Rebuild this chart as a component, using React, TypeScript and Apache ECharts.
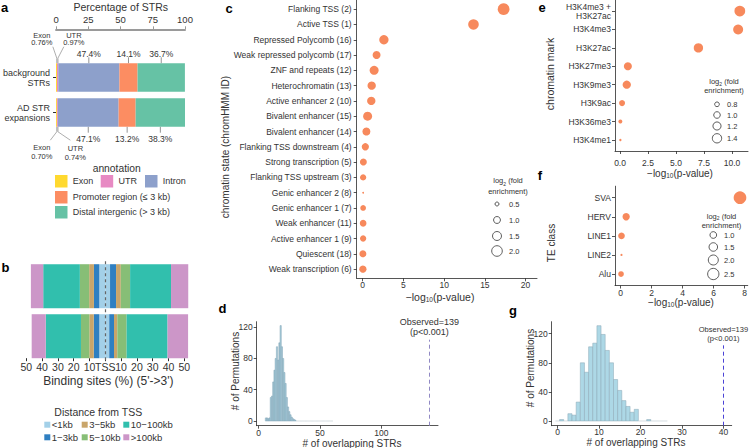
import React, { useEffect, useRef } from "react";
import * as echarts from "echarts";

const FONT = "'Liberation Sans', Arial, Helvetica, sans-serif";
const INK = "#333333";
const AXIS_LINE = "#2b2b2b";
const DOT = "#F7895C";

// ---------- panel a ----------
const aRows = ["background\nSTRs", "AD STR\nexpansions"];
const aAnnotations = ["Exon", "UTR", "Intron", "Promoter region (≤ 3 kb)", "Distal intergenic (> 3 kb)"];
const aColors = ["#FFD92F", "#E78AC3", "#8DA0CB", "#FC8D62", "#66C2A5"];
const aBackground = [0.76, 0.97, 47.4, 14.1, 36.7];
const aExpansions = [0.7, 0.74, 47.1, 13.2, 38.3];

// ---------- panel b ----------
const bRows = ["background STRs", "AD STR expansions"];
const bClasses = ["<1kb", "1−3kb", "3−5kb", "5−10kb", "10−100kb", ">100kb"];
const bColors = ["#A3D0E8", "#2F7FC1", "#C9A56A", "#87BE76", "#31BFAD", "#CC96C8"];
const bUpBackground = [3.8, 3.4, 3.0, 5.9, 23.2, 7.8];
const bDownBackground = [3.0, 3.8, 3.0, 5.9, 25.9, 10.9];
const bUpExpansions = [3.8, 3.5, 2.8, 5.3, 22.3, 8.9];
const bDownExpansions = [2.5, 3.0, 2.1, 5.9, 25.9, 13.0];

// ---------- panel c ----------
const cStates = [
  "Flanking TSS (2)", "Active TSS (1)", "Repressed Polycomb (16)", "Weak repressed polycomb (17)",
  "ZNF and repeats (12)", "Heterochromatin (13)", "Active enhancer 2 (10)", "Bivalent enhancer (15)",
  "Bivalent enhancer (14)", "Flanking TSS downstream (4)", "Strong transcription (5)",
  "Flanking TSS upstream (3)", "Genic enhancer 2 (8)", "Genic enhancer 1 (7)", "Weak enhancer (11)",
  "Active enhancer 1 (9)", "Quiescent (18)", "Weak transcription (6)",
];
const cLogP = [17.3, 13.6, 2.6, 1.7, 1.4, 1.1, 1.05, 0.6, 0.45, 0.32, 0.08, 0.05, 0.05, 0.05, 0.05, 0.05, 0.02, 0.02];
const cLog2FE = [2.4, 2.0, 1.6, 1.25, 1.5, 1.33, 1.33, 1.5, 1.25, 1.08, 1.0, 0.87, 0.3, 0.76, 0.95, 0.87, 1.0, 1.08];
const cSizeBreaks = [0.5, 1.0, 1.5, 2.0];
const cTicks = [0, 5, 10, 15, 20];

// ---------- panel d ----------
const dBinStart = 6;
const dCounts = [
  4, 4, 3, 4, 30, 32, 50, 65, 80, 95, 78, 100, 122, 95, 80, 62, 48, 30, 18, 12, 8, 5, 3, 2, 1,
  0, 0, 0, 0, 0, 0, 0, 0, 0, 0, 0, 0, 0, 0, 0, 0, 0, 0, 0, 0, 0, 0, 0, 0, 0, 0, 0, 0, 0, 0,
];
const dObserved = 139;
const dTicksX = [0, 50, 100];
const dTicksY = [0, 40, 80, 120];

// ---------- panel e ----------
const eMarks = ["H3K4me3 +\nH3K27ac", "H3K4me3", "H3K27ac", "H3K27me3", "H3K9me3", "H3K9ac", "H3K36me3", "H3K4me1"];
const eLogP = [10.7, 10.55, 7.0, 0.7, 0.6, 0.18, 0.03, 0.03];
const eLog2FE = [1.66, 1.52, 1.4, 1.19, 1.23, 0.93, 0.74, 0.65];
const eSizeBreaks = [0.8, 1.0, 1.2, 1.4];
const eTicks = [0, 2.5, 5, 7.5, 10];

// ---------- panel f ----------
const fClasses = ["SVA", "HERV", "LINE1", "LINE2", "Alu"];
const fLogP = [7.7, 0.35, 0.05, 0.05, 0.02];
const fLog2FE = [3.1, 1.15, 1.0, 0.25, 0.77];
const fSizeBreaks = [1.0, 1.5, 2.0, 2.5];
const fTicks = [0, 2, 4, 6, 8];

// ---------- panel g ----------
const gBinStart = 0;
const gCounts = [0, 2, 0, 10, 8, 26, 80, 67, 102, 107, 131, 119, 97, 80, 57, 42, 28, 20, 12, 16, 0, 0, 2, 0, 0, 0, 0];
const gObserved = 40;
const gTicksX = [0, 10, 20, 30, 40];
const gTicksY = [0, 40, 80, 120];

// size scales (area-linear)
const cSize = (v: number) => Math.sqrt(Math.max(64 * v - 16, 3));
const eSize = (v: number) => Math.sqrt(Math.max(108 * v - 64.4, 3));
const fSize = (v: number) => Math.sqrt(Math.max(55 * v - 10, 3));

const txt = (size: number, extra: any = {}) => ({ color: INK, fontSize: size, fontFamily: FONT, ...extra });

function valueAxis(grid: number, min: number, max: number, ticks: number[], label: any = {}, extra: any = {}) {
  return {
    type: "value",
    gridIndex: grid,
    min,
    max,
    splitLine: { show: false },
    axisLine: { show: true, onZero: false, lineStyle: { color: AXIS_LINE, width: 0.8 } },
    axisTick: { show: true, customValues: ticks, length: 3, lineStyle: { color: AXIS_LINE, width: 0.8 } },
    axisLabel: { customValues: ticks, ...txt(8.5), ...label },
    ...extra,
  };
}

function hist(fill: string, stroke: string) {
  return (params: any, api: any) => {
    const x = api.value(0);
    const n = api.value(1);
    const p0 = api.coord([x - 0.5, 0]);
    const p1 = api.coord([x + 0.5, n]);
    if (n <= 0) {
      return {
        type: "line",
        shape: { x1: p0[0], y1: p0[1], x2: p1[0], y2: p0[1] },
        style: { stroke: "#C9D3D8", lineWidth: 0.8 },
      };
    }
    return {
      type: "rect",
      shape: { x: p0[0], y: p1[1], width: p1[0] - p0[0], height: p0[1] - p1[1] },
      style: { fill, stroke, lineWidth: 0.5 },
    };
  };
}

const idx = (arr: any[]) => arr.map((_, i) => i);

function buildOption(): any {
  const grids = [
    { left: 52.7, top: 60, width: 132.3, height: 70 },
    { left: 26.3, top: 261.2, width: 158, height: 100 },
    { left: 356.7, top: -2.5, width: 180.3, height: 280.8 },
    { left: 256.7, top: 321.7, width: 181.3, height: 104 },
    { left: 615, top: 0, width: 133, height: 151 },
    { left: 615, top: 186.2, width: 133, height: 99.3 },
    { left: 551.7, top: 321.7, width: 180, height: 104 },
  ];

  const xAxis = [
    {
      type: "value", gridIndex: 0, min: 0, max: 100, interval: 25, position: "top", offset: 30.7,
      splitLine: { show: false },
      axisLine: { show: true, lineStyle: { color: "#9a9a9a", width: 2 } },
      axisTick: { show: true, length: 3, lineStyle: { color: "#9a9a9a" } },
      axisLabel: { ...txt(9.5), margin: 4.5 },
    },
    {
      type: "value", gridIndex: 1, min: -50, max: 50, interval: 10, offset: -3,
      splitLine: { show: false },
      axisLine: { show: false },
      axisTick: { show: true, length: 3, lineStyle: { color: AXIS_LINE } },
      axisLabel: { ...txt(10.5), margin: 3.5, formatter: (v: number) => (v === 0 ? "TSS" : String(Math.abs(v))) },
    },
    valueAxis(2, -0.74, 21.4, cTicks, { margin: 2.5 }),
    valueAxis(3, -1.5, 146, dTicksX, { margin: 2.8 }),
    valueAxis(4, -0.45, 11.43, eTicks, { margin: 7, formatter: (v: number) => v.toFixed(1) }),
    valueAxis(5, -0.37, 8.2, fTicks, { margin: 3.3 }),
    valueAxis(6, -1.4, 42, gTicksX, { margin: 1.5 }),
  ];

  const catLabel = (names: string[]) => (v: number) => names[Math.round(v)] ?? "";

  const yAxis = [
    {
      type: "category", gridIndex: 0, data: aRows, inverse: true,
      axisLine: { show: false },
      axisTick: { show: true, alignWithLabel: true, length: 3, lineStyle: { color: AXIS_LINE } },
      axisLabel: { ...txt(9), margin: 6, lineHeight: 10 },
    },
    {
      type: "category", gridIndex: 1, data: bRows, inverse: true,
      axisLine: { show: false }, axisTick: { show: false }, axisLabel: { show: false },
    },
    valueAxis(2, -0.6, cStates.length - 0.4, idx(cStates), { margin: 5, formatter: catLabel(cStates) }, { inverse: true }),
    valueAxis(3, -6, 127, dTicksY, { margin: 4 }),
    valueAxis(4, -0.6, eMarks.length - 0.4, idx(eMarks), { margin: 4, lineHeight: 9, formatter: catLabel(eMarks) }, { inverse: true }),
    valueAxis(5, -0.6, fClasses.length - 0.4, idx(fClasses), { margin: 4, formatter: catLabel(fClasses) }, { inverse: true }),
    valueAxis(6, -6.5, 136.5, gTicksY, { margin: 4 }),
  ];

  const series: any[] = [];

  aAnnotations.forEach((name, i) => {
    series.push({
      type: "bar", name, xAxisIndex: 0, yAxisIndex: 0, stack: "a", barWidth: 28.4, silent: true,
      data: [aBackground[i], aExpansions[i]], itemStyle: { color: aColors[i] },
    });
  });

  bClasses.forEach((name, i) => {
    series.push({
      type: "bar", name, xAxisIndex: 1, yAxisIndex: 1, stack: "b", barWidth: 44, silent: true, clip: false,
      data: [-bUpBackground[i], -bUpExpansions[i]], itemStyle: { color: bColors[i] },
    });
    series.push({
      type: "bar", name, xAxisIndex: 1, yAxisIndex: 1, stack: "b", barWidth: 44, silent: true, clip: false,
      data: [bDownBackground[i], bDownExpansions[i]], itemStyle: { color: bColors[i] },
      markLine: i === bClasses.length - 1
        ? {
            silent: true, symbol: "none", label: { show: false },
            lineStyle: { type: [3, 3], color: "#666", width: 1.2 },
            data: [{ xAxis: 0 }],
          }
        : undefined,
    });
  });

  series.push({
    type: "scatter", xAxisIndex: 2, yAxisIndex: 2, silent: true,
    data: cLogP.map((p, i) => [p, i, cLog2FE[i]]),
    symbolSize: (d: number[]) => cSize(d[2]),
    itemStyle: { color: DOT, opacity: 1 },
  });

  const observedLine = (value: number, top: number, yMin: number, color: string, size: number) => ({
    silent: true, symbol: "none",
    lineStyle: { type: [4, 3], color, width: 1 },
    label: {
      show: true, position: "end", distance: 2, formatter: "Observed=139\n(p<0.001)",
      ...txt(size), lineHeight: size + 1.5,
    },
    data: [[{ coord: [value, yMin] }, { coord: [value, top] }]],
  });

  series.push({
    type: "custom", xAxisIndex: 3, yAxisIndex: 3, silent: true,
    data: dCounts.map((c, i) => [dBinStart + i, c]),
    encode: { x: 0, y: 1 },
    renderItem: hist("#A9CEDD", "#7EA3B4"),
    markLine: observedLine(dObserved, 104, -6, "#9189C4", 9),
  });

  series.push({
    type: "scatter", xAxisIndex: 4, yAxisIndex: 4, silent: true,
    data: eLogP.map((p, i) => [p, i, eLog2FE[i]]),
    symbolSize: (d: number[]) => eSize(d[2]),
    itemStyle: { color: DOT, opacity: 1 },
  });

  series.push({
    type: "scatter", xAxisIndex: 5, yAxisIndex: 5, silent: true,
    data: fLogP.map((p, i) => [p, i, fLog2FE[i]]),
    symbolSize: (d: number[]) => fSize(d[2]),
    itemStyle: { color: DOT, opacity: 1 },
  });

  series.push({
    type: "custom", xAxisIndex: 6, yAxisIndex: 6, silent: true,
    data: gCounts.map((c, i) => [gBinStart + i, c]),
    encode: { x: 0, y: 1 },
    renderItem: hist("#ADD8E6", "#8AA7B5"),
    markLine: observedLine(gObserved, 104, -6.5, "#4B43D6", 7.5),
  });

  return {
    animation: false,
    backgroundColor: "#ffffff",
    textStyle: { fontFamily: FONT },
    grid: grids,
    xAxis,
    yAxis,
    series,
  };
}

const SUB = { sub: { fontSize: 6.5, fontFamily: FONT, fill: INK, verticalAlign: "bottom", padding: [4, 0, 0, 0] } };

function text(x: number, y: number, s: string, size: number, extra: any = {}, rot = 0) {
  return {
    type: "text", x, y, rotation: rot, silent: true,
    style: { text: s, fill: INK, fontSize: size, fontFamily: FONT, align: "center", verticalAlign: "middle", ...extra },
  };
}

function buildGraphics(chart: any) {
  const els: any[] = [];
  const px = (grid: number, pt: number[]) => chart.convertToPixel({ gridIndex: grid }, pt) as number[];
  const line = (x1: number, y1: number, x2: number, y2: number, stroke = "#999", w = 0.8) =>
    els.push({ type: "line", silent: true, shape: { x1, y1, x2, y2 }, style: { stroke, lineWidth: w } });

  // panel letters
  const letters: [string, number, number][] = [
    ["a", 4.5, 7], ["b", 5.5, 267], ["c", 229, 8], ["d", 222.5, 308], ["e", 542, 7], ["f", 540, 175], ["g", 513, 310],
  ];
  letters.forEach(([l, x, y]) => els.push(text(x, y, l, 13, { fontWeight: "bold", fill: "#000" })));

  // ---- panel a annotations
  els.push(text(120.7, 7.3, "Percentage of STRs", 10.5));
  [aBackground, aExpansions].forEach((vals, r) => {
    const center = px(0, [0, r])[1];
    const dir = r === 0 ? -1 : 1;
    const edge = center + dir * 14.2;
    let cum = 0;
    vals.forEach((v, i) => {
      const mid = cum + v / 2;
      cum += v;
      if (i >= 2) {
        const x = px(0, [mid, r])[0];
        line(x, edge, x, edge + dir * 6, "#777", 0.8);
        els.push(text(x, edge + dir * (r === 0 ? 9.5 : 12.3), `${v.toFixed(1)}%`, 8.5));
      }
    });
    const ax = px(0, [0, r])[0] + 1.3;
    line(ax, edge, ax, edge + dir * 5, "#bbb", 2.5);
    if (r === 0) {
      line(ax - 0.5, edge - 5, ax - 4.5, edge - 16.6);
      line(ax + 0.5, edge - 5, ax + 6.5, edge - 16.6);
      els.push(text(ax - 15.5, edge - 24.3, `${aAnnotations[0]}\n${vals[0].toFixed(2)}%`, 7.5, { lineHeight: 7.5 }));
      els.push(text(ax + 16.5, edge - 24.3, `${aAnnotations[1]}\n${vals[1].toFixed(2)}%`, 7.5, { lineHeight: 7.5 }));
    } else {
      line(ax - 0.5, edge + 5, ax - 7, edge + 13.5);
      line(ax + 0.5, edge + 5, ax + 13, edge + 13.5);
      els.push(text(ax - 15.5, edge + 25.5, `${aAnnotations[0]}\n${vals[0].toFixed(2)}%`, 7.5, { lineHeight: 8.5 }));
      els.push(text(ax + 18, edge + 26.5, `${aAnnotations[1]}\n${vals[1].toFixed(2)}%`, 7.5, { lineHeight: 8.5 }));
    }
  });

  // legend a
  els.push(text(116.7, 168.3, "annotation", 10.3));
  const aPos = [[55, 175], [100.7, 175], [145, 175], [55, 191], [55, 206]];
  aAnnotations.forEach((name, i) => {
    const [x, y] = aPos[i];
    els.push({ type: "rect", silent: true, shape: { x, y, width: 12.5, height: 12.5 }, style: { fill: aColors[i] } });
    els.push(text(x + 17.7, y + 6.3, name, 9, { align: "left" }));
  });

  // ---- panel b titles/legend
  els.push(text(108.3, 380.7, "Binding sites (%) (5'->3')", 12));
  els.push(text(54.3, 412.3, "Distance from TSS", 10.5, { align: "left" }));
  const bColX = [44.3, 81.7, 123.3];
  const bRowY = [424.7, 437.3];
  bClasses.forEach((name, i) => {
    const x = bColX[Math.floor(i / 2)];
    const y = bRowY[i % 2];
    els.push({ type: "rect", silent: true, shape: { x, y: y - 3, width: 6, height: 6 }, style: { fill: bColors[i] } });
    els.push(text(x + 7.5, y, name, 9.5, { align: "left" }));
  });

  // ---- panel c titles / legend
  els.push(text(440, 297, "−log{sub|10}(p-value)", 10.5, { rich: SUB }));
  els.push(text(225, 147, "chromatin state (chromHMM ID)", 10, {}, Math.PI / 2));
  const sizeLegend = (cx: number, tx: number, titleX: number, titleY: number, lh: number, ys: number[], breaks: number[], f: (v: number) => number) => {
    els.push(text(titleX, titleY, "log{sub|2} (fold\nenrichment)", 7.5, { lineHeight: lh, rich: { sub: { fontSize: 5, fontFamily: FONT, fill: INK, verticalAlign: "bottom", padding: [3, 0, 0, 0] } } }));
    breaks.forEach((b, i) => {
      els.push({ type: "circle", silent: true, shape: { cx, cy: ys[i], r: f(b) / 2 }, style: { fill: "none", stroke: "#333", lineWidth: 0.8 } });
      els.push(text(tx, ys[i], b.toFixed(1), 7.5, { align: "left" }));
    });
  };
  sizeLegend(497, 509, 508, 186, 11.5, [204, 220, 236, 251], cSizeBreaks, cSize);

  // ---- panel d titles
  els.push(text(235, 371, "# of Permutations", 10, {}, Math.PI / 2));
  els.push(text(352, 443, "# of overlapping STRs", 10));

  // ---- panel e
  els.push(text(550, 74, "chromatin mark", 10.5, {}, Math.PI / 2));
  els.push(text(680, 173.3, "−log{sub|10}(p-value)", 10, { rich: SUB }));
  sizeLegend(717, 727, 724, 86, 9, [104.3, 115, 126, 138.3], eSizeBreaks, eSize);

  // ---- panel f
  els.push(text(551.7, 243, "TE class", 10, {}, Math.PI / 2));
  els.push(text(681, 302.7, "−log{sub|10}(p-value)", 10, { rich: SUB }));
  sizeLegend(713.3, 724, 721.5, 220.5, 9, [235, 247, 260, 274], fSizeBreaks, fSize);

  // ---- panel g
  els.push(text(530, 368, "# of Permutations", 10, {}, Math.PI / 2));
  els.push(text(636, 442.7, "# of overlapping STRs", 10));

  return els;
}

export default function App() {
  const ref = useRef<HTMLDivElement>(null);
  useEffect(() => {
    const el = ref.current;
    if (!el) return;
    const chart = echarts.init(el, null, { renderer: "svg" });
    chart.setOption(buildOption());
    chart.setOption({ graphic: { elements: buildGraphics(chart) } });
    return () => chart.dispose();
  }, []);
  return (
    <div
      ref={ref}
      style={{ position: "fixed", left: 0, top: 0, width: 750, height: 448, background: "#fff" }}
    />
  );
}
